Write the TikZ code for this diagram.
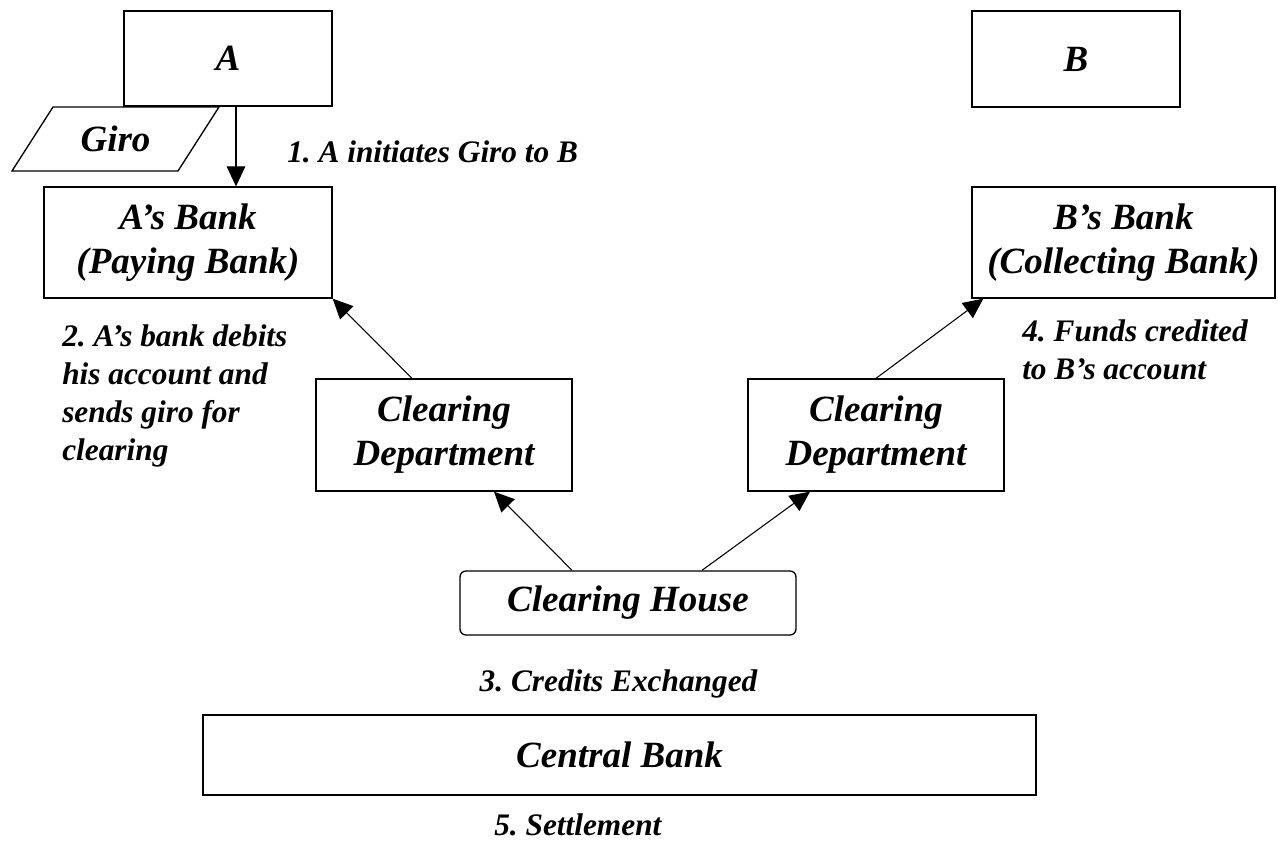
\documentclass[tikz,border=0pt]{standalone}
\usepackage{fontspec}
\setmainfont{Liberation Serif}
\usetikzlibrary{arrows.meta,calc}
\newcommand\bxfont{\fontsize{27.75pt}{33pt}\selectfont\bfseries\itshape}
\newcommand\lbfont{\fontsize{23.5pt}{28.5pt}\selectfont\bfseries\itshape}
\def\px{0.75pt}
\frenchspacing
\begin{document}
\begin{tikzpicture}[x=0.75pt,y=-0.75pt,
  box/.style={draw,line width=1pt,inner sep=0pt,align=center,font=\bxfont},
  lbl/.style={inner sep=0pt,font=\lbfont},
  arr/.style={line width=0.8pt,-{Triangle[length=15pt,width=14pt]}}]
\fill[white] (0,0) rectangle (1278,841);
\useasboundingbox (0,0) rectangle (1278,841);

% boxes
\node[box,minimum width=208*\px,minimum height=95*\px] (A) at (228,58.5) {A};
\coordinate (g1) at (53,107);
\coordinate (g2) at (219,107);
\coordinate (g3) at (178,171);
\coordinate (g4) at (12,171);
\draw[line width=1pt] (g1) -- (g2) -- (g3) -- (g4) -- cycle;
\node[inner sep=0pt,font=\bxfont] (giro) at (115.5,139) {Giro};
\node[box,minimum width=288*\px,minimum height=111*\px] (Abank) at (188,242.5) {A’s Bank\\(Paying Bank)};
\node[box,minimum width=208*\px,minimum height=96*\px] (B) at (1076,59) {B};
\node[box,minimum width=303*\px,minimum height=111*\px] (Bbank) at (1123.5,242.5) {B’s Bank\\(Collecting Bank)};
\node[box,minimum width=256*\px,minimum height=112*\px] (LCD) at (444,435) {Clearing\\Department};
\node[box,minimum width=256*\px,minimum height=112*\px] (RCD) at (876,435) {Clearing\\Department};
\node[box,rounded corners=4.5pt,minimum width=336*\px,minimum height=64*\px] (CH) at (628,603) {Clearing House};
\node[box,minimum width=833*\px,minimum height=80*\px] (CB) at (619.5,755) {Central Bank};

% labels
\node[lbl,anchor=base west] (l1) at (287,163) {1. A initiates Giro to B};
\node[lbl,anchor=north west,align=left] (l2) at (62,324) {2. A’s bank debits\\his account and\\sends giro for\\clearing};
\node[lbl,anchor=north west,align=left] (l4) at (1022,319) {4. Funds credited\\to B’s account};
\node[lbl,anchor=base] (l3) at (618.5,691) {3. Credits Exchanged};
\node[lbl,anchor=base west] (l5) at (494,835) {5. Settlement};

% arrows
\coordinate (a1) at ([xshift=6pt]A.south);
\draw[arr] (a1) -- (a1 |- Abank.north);
\draw[arr] ([xshift=-24pt]LCD.north) -- (Abank.south east);
\draw[arr] (RCD.north) -- ([xshift=9pt]Bbank.south west);
\draw[arr] ([xshift=-42pt]CH.north) -- ([xshift=37.5pt]LCD.south);
\draw[arr] ([xshift=55.5pt]CH.north) -- ([xshift=-49.5pt]RCD.south);
\end{tikzpicture}
\end{document}
